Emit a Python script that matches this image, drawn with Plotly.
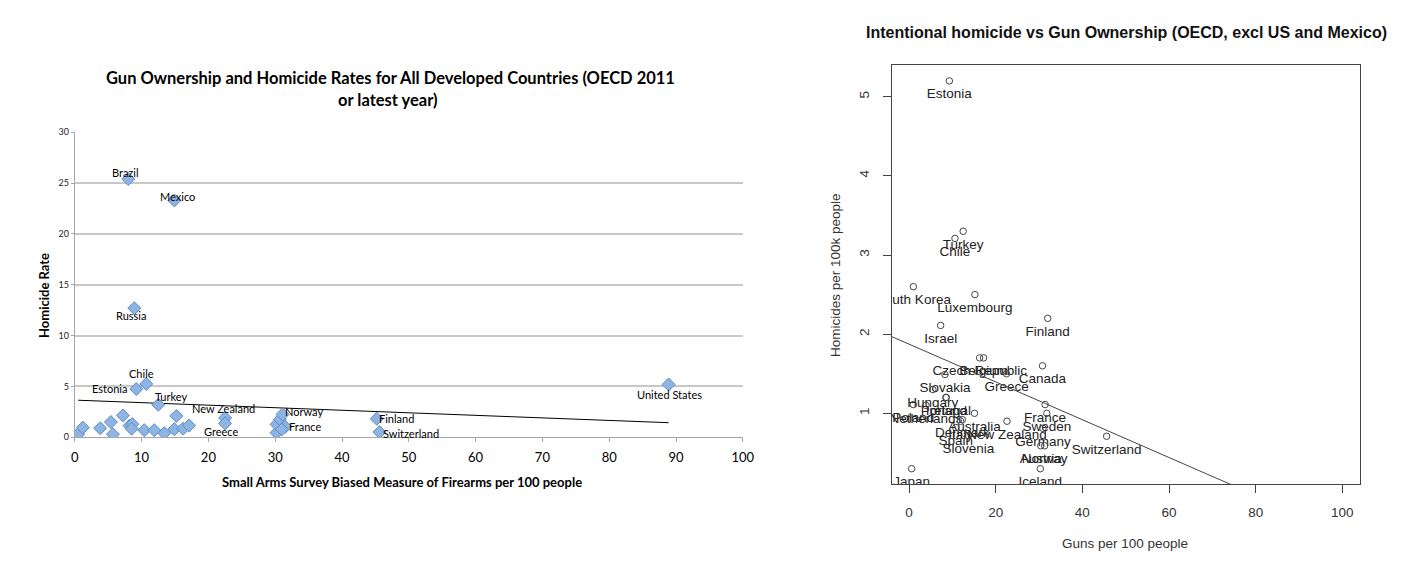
import plotly.graph_objects as go

# ---------------- Left chart data (Excel-style) ----------------
left_guns = [0.5, 1.2, 3.8, 5.4, 5.7, 7.2, 8.0, 8.2, 8.6, 8.5, 8.9, 9.2, 10.4, 10.7,
             11.9, 12.5, 13.4, 14.9, 14.9, 15.2, 16.2, 17.1, 22.5, 22.5, 30.2, 30.2,
             30.7, 31.1, 31.5, 31.0, 45.2, 45.6, 88.9]
left_homicide = [0.3, 0.95, 0.9, 1.5, 0.3, 2.15, 25.4, 1.15, 1.3, 0.85, 12.7, 4.75, 0.7, 5.25,
                 0.7, 3.2, 0.4, 0.8, 23.3, 2.1, 0.85, 1.17, 1.9, 1.37, 0.45, 1.27,
                 1.76, 2.25, 1.04, 0.78, 1.83, 0.52, 5.2]
left_labels = ["", "", "", "", "", "", "Brazil", "", "", "", "Russia", "Estonia", "", "Chile",
               "", "Turkey", "", "", "Mexico", "", "", "", "New Zealand", "Greece", "", "",
               "", "Norway", "France", "", "Finland", "Switzerland", "United States"]
left_trend_intercept = 3.66
left_trend_slope = -0.025
left_x_ticks = [0, 10, 20, 30, 40, 50, 60, 70, 80, 90, 100]
left_y_ticks = [0, 5, 10, 15, 20, 25, 30]

# label placement (pixel offsets from the point, style only)
left_label_offsets = {
    "Brazil": (-3, 7), "Mexico": (3, 4), "Russia": (-3, -7), "Chile": (-5, 10),
    "Estonia": (-27, 1), "Turkey": (13, 8), "New Zealand": (-2, 9), "Greece": (-4, -8),
    "Norway": (21, 3), "France": (20, 0), "Finland": (20, 0), "Switzerland": (32, -1),
    "United States": (1, -10),
}

# ---------------- Right chart data (R-style) ----------------
right_countries = ["Estonia", "Turkey", "Chile", "South Korea", "Luxembourg", "Finland", "Israel",
                   "Czech Republic", "Belgium", "Canada", "Slovakia", "Greece", "Hungary",
                   "Portugal", "Ireland", "Netherlands", "Poland", "Australia", "France",
                   "Sweden", "Denmark", "Italy", "New Zealand", "Spain", "Germany", "Slovenia",
                   "Austria", "Norway", "Switzerland", "Japan", "Iceland"]
right_guns = [9.3, 12.5, 10.6, 1.0, 15.2, 32.0, 7.3,
              16.3, 17.2, 30.8, 8.3, 22.5, 5.5,
              8.5, 8.6, 3.9, 1.0, 15.1, 31.4,
              31.8, 12.3, 11.9, 22.6, 10.8, 30.9, 13.7,
              30.4, 31.3, 45.6, 0.6, 30.3]
right_homicide = [5.2, 3.3, 3.21, 2.6, 2.5, 2.2, 2.11,
                  1.7, 1.7, 1.6, 1.49, 1.5, 1.3,
                  1.2, 1.2, 1.1, 1.11, 1.0, 1.11,
                  1.0, 0.92, 0.9, 0.9, 0.82, 0.81, 0.72,
                  0.59, 0.59, 0.71, 0.3, 0.3]
right_fit_intercept = 1.874
right_fit_slope = -0.02388
right_x_ticks = [0, 20, 40, 60, 80, 100]
right_y_ticks = [1, 2, 3, 4, 5]
right_x_range = [-4, 104]
right_y_range = [0.104, 5.396]

W, H = 1425, 574


def fx(p):
    return p / W


def fy(p):
    return 1 - p / H


fig = go.Figure()

# ---- left chart ----
lx0, lx1 = min(left_guns), max(left_guns)
fig.add_trace(go.Scatter(
    x=[lx0, lx1],
    y=[left_trend_intercept + left_trend_slope * lx0, left_trend_intercept + left_trend_slope * lx1],
    mode="lines", line=dict(color="#000000", width=1), hoverinfo="skip",
    xaxis="x", yaxis="y", showlegend=False))
fig.add_trace(go.Scatter(
    x=left_guns, y=left_homicide, mode="markers",
    marker=dict(symbol="diamond", size=10, color="#8DB4E2",
                line=dict(color="#5E8BC6", width=1)),
    text=left_labels, xaxis="x", yaxis="y", showlegend=False))

annotations = []
for gx, hy, lab in zip(left_guns, left_homicide, left_labels):
    if not lab:
        continue
    dx, dy = left_label_offsets.get(lab, (0, 0))
    annotations.append(dict(x=gx, y=hy, xref="x", yref="y", text=lab, showarrow=False,
                            xshift=dx, yshift=dy, xanchor="center", yanchor="middle",
                            font=dict(family="Lato", size=11, color="#000")))

# ---- right chart ----
# country labels (placed below each point, R text(pos=1) style)
fig.add_trace(go.Scatter(
    x=right_guns, y=right_homicide, mode="markers+text", text=right_countries,
    textposition="bottom center",
    textfont=dict(family="Liberation Sans", size=13.5, color="#222"),
    marker=dict(size=10, opacity=0), hoverinfo="skip",
    cliponaxis=True, xaxis="x2", yaxis="y2", showlegend=False))
fig.add_trace(go.Scatter(
    x=right_guns, y=right_homicide, mode="markers", text=right_countries,
    marker=dict(symbol="circle-open", size=6.5, color="#444", line=dict(width=1)),
    cliponaxis=True, xaxis="x2", yaxis="y2", showlegend=False))
rx0, rx1 = right_x_range
fig.add_trace(go.Scatter(
    x=[rx0, rx1],
    y=[right_fit_intercept + right_fit_slope * rx0, right_fit_intercept + right_fit_slope * rx1],
    mode="lines", line=dict(color="#444", width=1), hoverinfo="skip",
    xaxis="x2", yaxis="y2", showlegend=False))

# titles
annotations += [
    dict(x=fx(390), y=fy(78), xref="paper", yref="paper", showarrow=False,
         text="<b>Gun Ownership and Homicide Rates for All Developed Countries (OECD 2011</b>",
         font=dict(family="Lato", size=16.5, color="#000"), xanchor="center", yanchor="middle"),
    dict(x=fx(388), y=fy(100), xref="paper", yref="paper", showarrow=False,
         text="<b>or latest year)</b>",
         font=dict(family="Lato", size=16.5, color="#000"), xanchor="center", yanchor="middle"),
    dict(x=fx(402), y=fy(482), xref="paper", yref="paper", showarrow=False,
         text="<b>Small Arms Survey Biased Measure of Firearms per 100 people</b>",
         font=dict(family="Lato", size=13, color="#000"), xanchor="center", yanchor="middle"),
    dict(x=fx(44), y=fy(296), xref="paper", yref="paper", showarrow=False, textangle=-90,
         text="<b>Homicide Rate</b>",
         font=dict(family="Lato", size=13, color="#000"), xanchor="center", yanchor="middle"),
    dict(x=fx(1126), y=fy(33), xref="paper", yref="paper", showarrow=False,
         text="<b>Intentional homicide vs Gun Ownership (OECD, excl US and Mexico)</b>",
         font=dict(family="Liberation Sans", size=16, color="#111"), xanchor="center", yanchor="middle"),
    dict(x=fx(1125), y=fy(543), xref="paper", yref="paper", showarrow=False,
         text="Guns per 100 people",
         font=dict(family="Liberation Sans", size=13.5, color="#333"), xanchor="center", yanchor="middle"),
    dict(x=fx(836), y=fy(275), xref="paper", yref="paper", showarrow=False, textangle=-90,
         text="Homicides per 100k people",
         font=dict(family="Liberation Sans", size=13.5, color="#333"), xanchor="center", yanchor="middle"),
]

fig.update_layout(
    width=W, height=H, margin=dict(l=0, r=0, t=0, b=0, pad=0, autoexpand=False),
    paper_bgcolor="white", plot_bgcolor="white", showlegend=False,
    annotations=annotations,
    xaxis=dict(domain=[fx(74.8), fx(742.8)], range=[0, 100], tickvals=left_x_ticks,
               showgrid=False, zeroline=False, showline=True, linecolor="#a6a6a6", linewidth=1,
               ticks="outside", ticklen=4, tickcolor="#a6a6a6", ticklabelstandoff=4,
               automargin=False,
               tickfont=dict(family="Lato", size=13, color="#000"), anchor="y", fixedrange=True),
    yaxis=dict(domain=[fy(437.3), fy(132.3)], range=[0, 30], tickvals=left_y_ticks,
               showgrid=True, gridcolor="#c8c8c8", gridwidth=1.5, zeroline=False,
               showline=True, linecolor="#a6a6a6", linewidth=1,
               ticks="outside", ticklen=3, tickcolor="#a6a6a6", automargin=False,
               tickfont=dict(family="Lato", size=9, color="#222"), anchor="x", fixedrange=True),
    xaxis2=dict(domain=[fx(891.7), fx(1359.7)], range=right_x_range, tickvals=right_x_ticks,
                showgrid=False, zeroline=False, showline=True, mirror=True, linecolor="#444",
                linewidth=1, ticks="outside", ticklen=8, tickcolor="#444", ticklabelstandoff=8,
                automargin=False,
                tickfont=dict(family="Liberation Sans", size=13.5, color="#333"),
                anchor="y2", fixedrange=True),
    yaxis2=dict(domain=[fy(484.2), fy(65.4)], range=right_y_range, tickvals=right_y_ticks,
                showgrid=False, zeroline=False, showline=True, mirror=True, linecolor="#444",
                linewidth=1, ticks="outside", ticklen=8, tickcolor="#444", tickangle=-90,
                ticklabelstandoff=8, automargin=False,
                tickfont=dict(family="Liberation Sans", size=13.5, color="#333"),
                anchor="x2", fixedrange=True),
)

fig.write_html("out.html", config={"displayModeBar": False, "responsive": False},
               post_script="document.body.style.margin='0px';document.body.style.overflow='hidden';")
